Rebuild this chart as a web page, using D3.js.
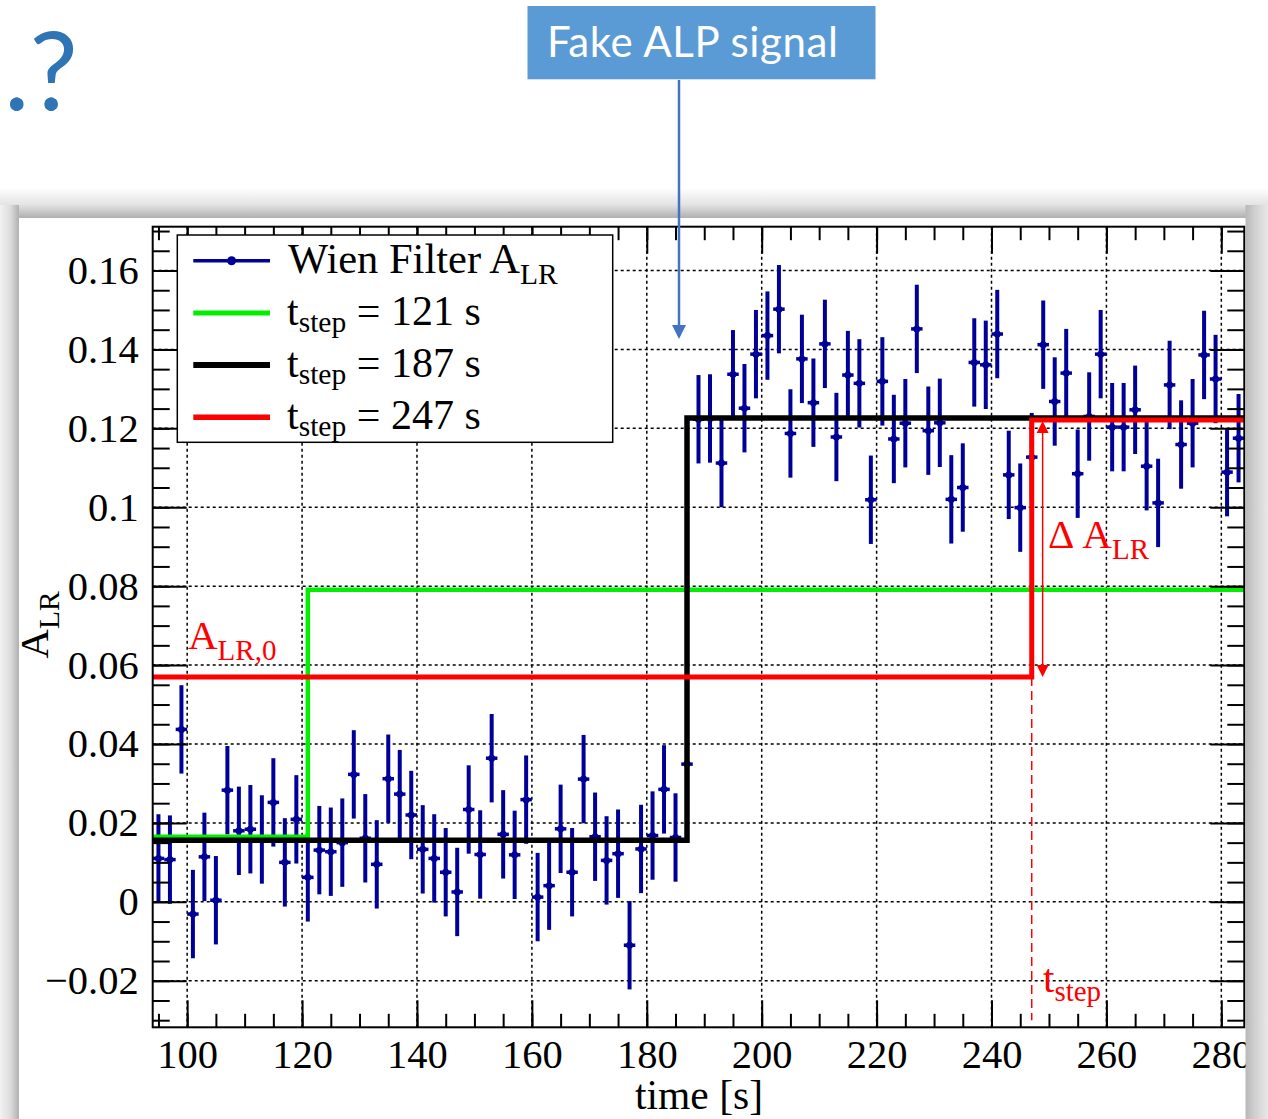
<!doctype html>
<html>
<script src="https://d3js.org/d3.v7.min.js"></script>
<head>
<meta charset="UTF-8">
<title>Wien Filter A_LR step fit</title>
<style>
body { margin: 0; background: #fff; }
svg text { font-family: "Liberation Serif", "Times New Roman", serif; }
</style>
</head>
<body>
<script>
// ---- data ----
const times = [95, 97, 99, 101, 103, 105, 107, 109, 111, 113, 115, 117, 119, 121, 123, 125, 127, 129, 131, 133,
  135, 137, 139, 141, 143, 145, 147, 149, 151, 153, 155, 157, 159, 161, 163, 165, 167, 169, 171, 173,
  175, 177, 179, 181, 183, 185, 187, 189, 191, 193, 195, 197, 199, 201, 203, 205, 207, 209, 211, 213,
  215, 217, 219, 221, 223, 225, 227, 229, 231, 233, 235, 237, 239, 241, 243, 245, 247, 249, 251, 253,
  255, 257, 259, 261, 263, 265, 267, 269, 271, 273, 275, 277, 279, 281, 283];
const alr = [0.0110, 0.0107, 0.0437, -0.0031, 0.0114, 0.0004, 0.0283, 0.0180, 0.0184, 0.0158,
  0.0252, 0.0100, 0.0209, 0.0062, 0.0131, 0.0127, 0.0150, 0.0323, 0.0161, 0.0095,
  0.0312, 0.0273, 0.0220, 0.0133, 0.0110, 0.0075, 0.0025, 0.0234, 0.0120, 0.0364,
  0.0171, 0.0119, 0.0259, 0.0012, 0.0041, 0.0185, 0.0075, 0.0311, 0.0165, 0.0105,
  0.0122, -0.0110, 0.0134, 0.0168, 0.0285, 0.0163, 0.0349, 0.1223, 0.1225, 0.1112,
  0.1337, 0.1251, 0.1388, 0.1435, 0.1502, 0.1187, 0.1376, 0.1265, 0.1414, 0.1178,
  0.1335, 0.1314, 0.1019, 0.1319, 0.1173, 0.1213, 0.1452, 0.1194, 0.1214, 0.1020,
  0.1050, 0.1367, 0.1361, 0.1439, 0.1082, 0.0999, 0.1127, 0.1412, 0.1268, 0.1340,
  0.1085, 0.1230, 0.1388, 0.1203, 0.1203, 0.1247, 0.1104, 0.1011, 0.1310, 0.1159,
  0.1213, 0.1386, 0.1325, 0.1089, 0.1175];
const ERR = 0.0112;      // y error of every point
const BIN_HALF = 1;      // x error (half bin width, s)

const stepTimes = [121, 187, 247];
const stepLow = [0.0165, 0.0156, 0.0570];
const stepHigh = [0.0791, 0.1226, 0.1221];
const stepLabels = ["121", "187", "247"];

const xTicks = [100, 120, 140, 160, 180, 200, 220, 240, 260, 280];
const xTickLabels = ["100", "120", "140", "160", "180", "200", "220", "240", "260", "280"];
const yTicks = [-0.02, 0, 0.02, 0.04, 0.06, 0.08, 0.1, 0.12, 0.14, 0.16];
const yTickLabels = ["\u22120.02", "0", "0.02", "0.04", "0.06", "0.08", "0.1", "0.12", "0.14", "0.16"];

// ---- layout ----
const W = 1268, H = 1119;
const L = 152.7, R = 1244.3, T = 226.7, B = 1027.3;
const NAVY = "#000099";
const stepColors = ["#00ee00", "#000000", "#ff0000"];
const stepWidths = [4.5, 5.5, 5];

const svg = d3.select("body").append("svg").attr("width", W).attr("height", H);

const x = d3.scaleLinear().domain([94, 284]).range([L, R]);
const y = d3.scaleLinear().domain([-0.0318, 0.1711]).range([B, T]);

// ---- slide decoration ----
svg.append("rect").attr("width", W).attr("height", H).attr("fill", "#fff");
svg.append("text").attr("x", 4).attr("y", 110)
  .style("font-family", "Lato, 'Open Sans', sans-serif").attr("font-size", 108)
  .attr("fill", "#2f75b5").text(".?");

svg.append("rect").attr("x", 527.5).attr("y", 6).attr("width", 348).attr("height", 73.3).attr("fill", "#5b9bd5");
svg.append("text").attr("x", 547).attr("y", 57)
  .style("font-family", "Lato, 'Open Sans', sans-serif").attr("font-size", 42)
  .attr("letter-spacing", 0.6).attr("fill", "#fff").text("Fake ALP signal");

const defs = svg.append("defs");
const gTop = defs.append("linearGradient").attr("id", "shTop").attr("x1", 0).attr("y1", 0).attr("x2", 0).attr("y2", 1);
gTop.append("stop").attr("offset", "0%").attr("stop-color", "#ffffff");
gTop.append("stop").attr("offset", "55%").attr("stop-color", "#e4e4e4");
gTop.append("stop").attr("offset", "100%").attr("stop-color", "#b0b0b0");
const gLeft = defs.append("linearGradient").attr("id", "shLeft").attr("x1", 0).attr("y1", 0).attr("x2", 1).attr("y2", 0);
gLeft.append("stop").attr("offset", "0%").attr("stop-color", "#f2f2f2");
gLeft.append("stop").attr("offset", "55%").attr("stop-color", "#dcdcdc");
gLeft.append("stop").attr("offset", "100%").attr("stop-color", "#b0b0b0");
const gRight = defs.append("linearGradient").attr("id", "shRight").attr("x1", 0).attr("y1", 0).attr("x2", 1).attr("y2", 0);
gRight.append("stop").attr("offset", "0%").attr("stop-color", "#b8b8b8");
gRight.append("stop").attr("offset", "40%").attr("stop-color", "#cfcfcf");
gRight.append("stop").attr("offset", "100%").attr("stop-color", "#e8e8e8");

svg.append("rect").attr("x", 0).attr("y", 188).attr("width", W).attr("height", 30).attr("fill", "url(#shTop)");
svg.append("rect").attr("x", 0).attr("y", 205).attr("width", 19).attr("height", H - 205).attr("fill", "url(#shLeft)");
svg.append("rect").attr("x", 19).attr("y", 218).attr("width", 1226).attr("height", H - 218).attr("fill", "#fff");

// ---- chart ----
const g = svg.append("g");

// grid
const grid = g.append("g").attr("stroke", "#000").attr("stroke-width", 1.5).attr("stroke-dasharray", "3,3");
grid.selectAll("line.gx").data(xTicks).join("line").attr("class", "gx")
  .attr("x1", d => x(d)).attr("x2", d => x(d)).attr("y1", T).attr("y2", B);
grid.selectAll("line.gy").data(yTicks).join("line").attr("class", "gy")
  .attr("x1", L).attr("x2", R).attr("y1", d => y(d)).attr("y2", d => y(d));

// data points with error bars
const pts = times.map((t, i) => ({ t: t, v: alr[i] }));
const dg = g.append("g").attr("stroke", NAVY);
dg.selectAll("line.ey").data(pts).join("line").attr("class", "ey")
  .attr("x1", d => x(d.t)).attr("x2", d => x(d.t))
  .attr("y1", d => y(d.v - ERR)).attr("y2", d => y(d.v + ERR))
  .attr("stroke-width", 4);
dg.selectAll("line.ex").data(pts).join("line").attr("class", "ex")
  .attr("x1", d => x(d.t - BIN_HALF)).attr("x2", d => x(d.t + BIN_HALF))
  .attr("y1", d => y(d.v)).attr("y2", d => y(d.v))
  .attr("stroke-width", 3.5);
dg.selectAll("circle").data(pts).join("circle")
  .attr("cx", d => x(d.t)).attr("cy", d => y(d.v)).attr("r", 3.5)
  .attr("fill", NAVY).attr("stroke", "none");

// step functions
const stepLine = d3.line().x(d => x(d[0])).y(d => y(d[1])).curve(d3.curveStepAfter);
stepTimes.forEach((ts, i) => {
  g.append("path")
    .attr("d", stepLine([[x.domain()[0], stepLow[i]], [ts, stepHigh[i]], [x.domain()[1], stepHigh[i]]]))
    .attr("fill", "none").attr("stroke", stepColors[i]).attr("stroke-width", stepWidths[i])
    .attr("stroke-linejoin", "miter");
});

// axes with ROOT-like inner ticks
function clean(sel) {
  sel.select(".domain").remove();
  sel.selectAll(".tick line").attr("stroke", "#000").attr("stroke-width", 2);
  sel.attr("font-family", "Liberation Serif, Times New Roman, serif").attr("font-size", 40.5);
}
const xMinor = d3.range(95, 284, 5);
const yMinor = d3.range(-0.03, 0.1701, 0.005);

g.append("g").attr("transform", `translate(0,${B})`)
  .call(d3.axisBottom(x).tickValues(xMinor).tickSize(-13.5).tickFormat("")).call(clean);
g.append("g").attr("transform", `translate(0,${B})`)
  .call(d3.axisBottom(x).tickValues(xTicks).tickSize(-27).tickPadding(12)
    .tickFormat((d, i) => xTickLabels[i])).call(clean);
g.append("g").attr("transform", `translate(0,${T})`)
  .call(d3.axisTop(x).tickValues(xMinor).tickSize(-13.5).tickFormat("")).call(clean);
g.append("g").attr("transform", `translate(0,${T})`)
  .call(d3.axisTop(x).tickValues(xTicks).tickSize(-27).tickFormat("")).call(clean);

g.append("g").attr("transform", `translate(${L},0)`)
  .call(d3.axisLeft(y).tickValues(yMinor).tickSize(-17).tickFormat("")).call(clean);
g.append("g").attr("transform", `translate(${L},0)`)
  .call(d3.axisLeft(y).tickValues(yTicks).tickSize(-34).tickPadding(14)
    .tickFormat((d, i) => yTickLabels[i])).call(clean);
g.append("g").attr("transform", `translate(${R},0)`)
  .call(d3.axisRight(y).tickValues(yMinor).tickSize(-17).tickFormat("")).call(clean);
g.append("g").attr("transform", `translate(${R},0)`)
  .call(d3.axisRight(y).tickValues(yTicks).tickSize(-34).tickFormat("")).call(clean);

g.append("rect").attr("x", L).attr("y", T).attr("width", R - L).attr("height", B - T)
  .attr("fill", "none").attr("stroke", "#000").attr("stroke-width", 2);

// text with a subscript
function subText(parent, px, py, main, sub, rest, opts) {
  const o = Object.assign({ size: 42, subSize: 29.5, shift: 11, fill: "#000" }, opts || {});
  const t = parent.append("text").attr("x", px).attr("y", py).attr("fill", o.fill).attr("font-size", o.size);
  t.append("tspan").text(main);
  t.append("tspan").attr("font-size", o.subSize).attr("dy", o.shift).text(sub);
  if (rest) t.append("tspan").attr("dy", -o.shift).text(rest);
  return t;
}

// axis titles
g.append("text").attr("x", 699).attr("y", 1109).attr("text-anchor", "middle")
  .attr("font-size", 41.5).text("time [s]");
subText(g, 0, 0, "A", "LR", null, { size: 41 })
  .attr("text-anchor", "middle").attr("transform", "translate(48,625) rotate(-90)");

// annotations (red)
const RED = "#ff0000";
const tStep = stepTimes[2];
g.append("line").attr("x1", x(tStep)).attr("x2", x(tStep))
  .attr("y1", y(stepLow[2])).attr("y2", y(-0.03))
  .attr("stroke", RED).attr("stroke-width", 1.5).attr("stroke-dasharray", "9,5");
const ax = x(tStep + 1.9);
const aTop = y(stepHigh[2]) + 1, aBot = y(stepLow[2]);
g.append("line").attr("x1", ax).attr("x2", ax).attr("y1", aTop + 8).attr("y2", aBot - 8)
  .attr("stroke", RED).attr("stroke-width", 1.5);
g.append("path").attr("d", `M${ax},${aTop} l-6,12 l12,0 z`).attr("fill", RED);
g.append("path").attr("d", `M${ax},${aBot} l-6,-12 l12,0 z`).attr("fill", RED);

subText(g, 188, 649, "A", "LR,0", null, { fill: RED, size: 41, subSize: 29, shift: 11 });
subText(g, 1048, 548, "\u0394 A", "LR", null, { fill: RED, size: 41, subSize: 29, shift: 10.5 });
subText(g, 1043, 992, "t", "step", null, { fill: RED, size: 41, subSize: 29, shift: 9 });

// legend
const leg = g.append("g");
leg.append("rect").attr("x", 177.3).attr("y", 235).attr("width", 435.4).attr("height", 207.3)
  .attr("fill", "#fff").attr("stroke", "#000").attr("stroke-width", 1.5);
const rowY = [260.7, 312.9, 365.1, 417.3];
leg.append("line").attr("x1", 193.3).attr("x2", 270).attr("y1", rowY[0]).attr("y2", rowY[0])
  .attr("stroke", NAVY).attr("stroke-width", 3.5);
leg.append("circle").attr("cx", 231.6).attr("cy", rowY[0]).attr("r", 4.5).attr("fill", NAVY);
subText(leg, 288, rowY[0] + 12.6, "Wien Filter A", "LR", null, { size: 42.5, shift: 10.7 });
stepLabels.forEach((lab, i) => {
  const ry = rowY[i + 1];
  leg.append("line").attr("x1", 193.3).attr("x2", 270).attr("y1", ry).attr("y2", ry)
    .attr("stroke", stepColors[i]).attr("stroke-width", stepWidths[i] + 0.5);
  subText(leg, 287, ry + 11.6, "t", "step", " = " + lab + " s", { shift: 7.5 });
});

// right side shadow (crops the last label, as in the slide)
svg.append("rect").attr("x", 1245.5).attr("y", 205).attr("width", W - 1245.5).attr("height", H - 205)
  .attr("fill", "url(#shRight)");

// callout arrow
svg.append("line").attr("x1", 679).attr("x2", 679).attr("y1", 80).attr("y2", 328)
  .attr("stroke", "#4472c4").attr("stroke-width", 2.5);
svg.append("path").attr("d", "M679,339 l-7,-14 l14,0 z").attr("fill", "#4472c4");
</script>
</body>
</html>
